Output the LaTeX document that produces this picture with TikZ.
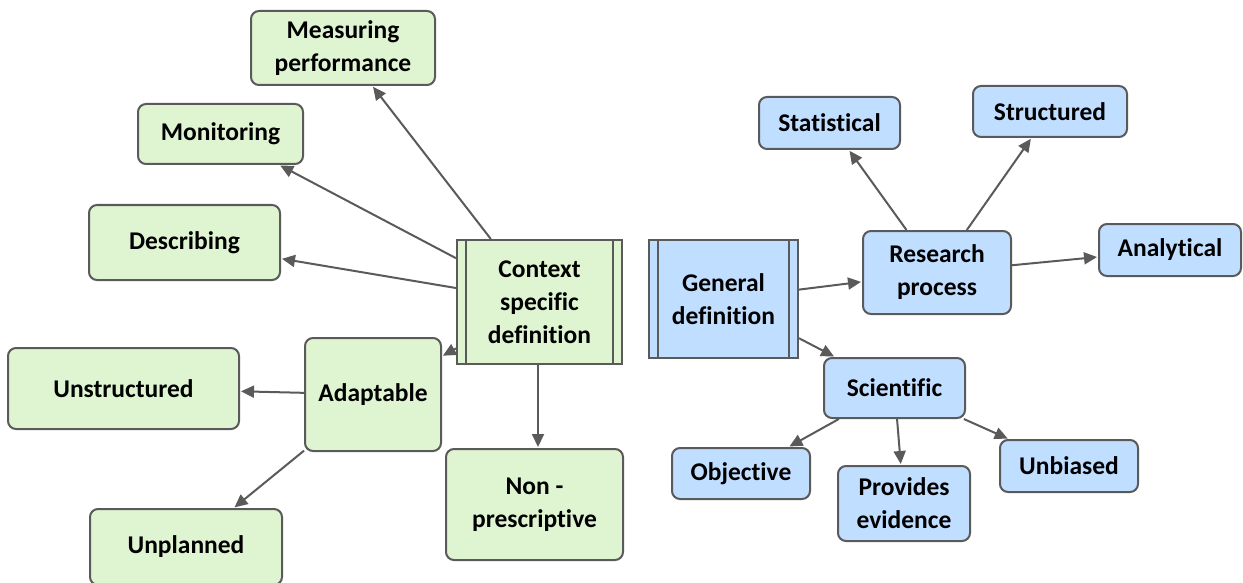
\documentclass[tikz,border=0pt]{standalone}
\usepackage{fontspec}
\setmainfont{Carlito}[Ligatures={NoCommon}]
\usetikzlibrary{arrows.meta}
\definecolor{gfill}{HTML}{DFF5D2}
\definecolor{bfill}{HTML}{C0DEFF}
\definecolor{edgec}{HTML}{5A5A5A}
\tikzset{
  box/.style={draw=edgec, line width=2pt, rounded corners=8pt, align=center, inner sep=0pt,
    font=\fontsize{25.5}{33}\selectfont\bfseries},
  gbox/.style={box, fill=gfill},
  bbox/.style={box, fill=bfill},
  pbox/.style={draw=edgec, line width=2pt, align=center, inner sep=0pt,
    font=\fontsize{25.5}{33}\selectfont\bfseries},
  conn/.style={draw=edgec, line width=2pt, -{Triangle[length=13pt,width=12pt]}, shorten >=1pt},
  bar/.style={draw=edgec, line width=2pt}
}
\newcommand{\bx}[6]{\node[#1, minimum width=#4pt, minimum height=#5pt] (#6) at (#2,#3)}
\begin{document}
\begin{tikzpicture}[x=1pt,y=-1pt]
\useasboundingbox (0,0) rectangle (1243,583);
\clip (0,0) rectangle (1243,583);
% green side
\bx{gbox}{343}{48}{184}{74}{meas} {Measuring\\performance};
\bx{gbox}{220.5}{134}{165}{60}{moni} {Monitoring};
\bx{gbox}{184.5}{242.5}{191}{75}{desc} {Describing};
\bx{pbox,fill=gfill}{539.5}{302}{165}{124}{ctx} {Context\\specific\\definition};
\draw[bar] ([xshift=10pt]ctx.north west) -- ([xshift=10pt]ctx.south west);
\draw[bar] ([xshift=-10pt]ctx.north east) -- ([xshift=-10pt]ctx.south east);
\bx{gbox}{373}{394.5}{136}{113}{adap} {Adaptable};
\bx{gbox}{123.5}{388.5}{231}{81}{unst} {Unstructured};
\bx{gbox}{186}{547}{192}{76}{unpl} {Unplanned};
\bx{gbox}{534.5}{504.5}{177}{111}{nonp} {Non -\\prescriptive};
% blue side
\bx{pbox,fill=bfill}{723.5}{299}{149}{118}{gen} {General\\definition};
\draw[bar] ([xshift=10pt]gen.north west) -- ([xshift=10pt]gen.south west);
\draw[bar] ([xshift=-10pt]gen.north east) -- ([xshift=-10pt]gen.south east);
\bx{bbox}{937}{272.5}{148}{83}{res} {Research\\process};
\bx{bbox}{829.5}{123}{141}{52}{stat} {Statistical};
\bx{bbox}{1050}{111.5}{154}{51}{stru} {Structured};
\bx{bbox}{1170}{250}{142}{52}{anal} {Analytical};
\bx{bbox}{894.5}{388}{141}{60}{sci} {Scientific};
\bx{bbox}{741}{473.5}{138}{51}{obj} {Objective};
\bx{bbox}{904}{503.5}{132}{75}{prov} {Provides\\evidence};
\bx{bbox}{1069}{466}{138}{52}{unb} {Unbiased};
% connectors
\draw[conn] (ctx) -- (meas);
\draw[conn] (ctx) -- (moni);
\draw[conn] (ctx) -- (desc);
\draw[conn] (ctx) -- (adap);
\draw[conn] ([xshift=-1.5pt]ctx.south) -- ([xshift=-1.5pt]ctx.south |- nonp.north);
\draw[conn] (adap) -- (unst);
\draw[conn] (adap) -- (unpl);
\draw[conn] (gen) -- (res);
\draw[conn] (gen) -- (sci);
\draw[conn] (res) -- (stat);
\draw[conn] (res) -- (stru);
\draw[conn] (res) -- (anal);
\draw[conn] (sci) -- (obj);
\draw[conn] (sci) -- (prov);
\draw[conn] (sci) -- (unb);
\end{tikzpicture}
\end{document}
